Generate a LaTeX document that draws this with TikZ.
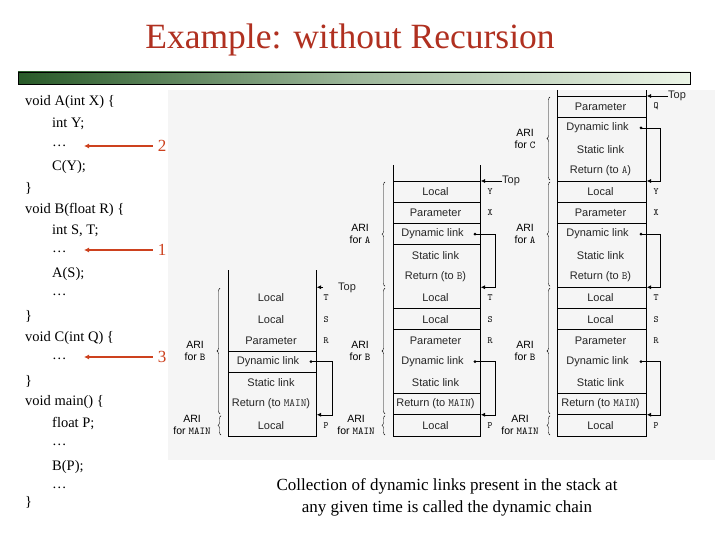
\documentclass[tikz,border=0pt]{standalone}
\usepackage{fontspec}
\setmainfont{Liberation Serif}
\newfontfamily\figfont{Liberation Sans}
\usetikzlibrary{decorations.pathreplacing,arrows.meta}
\definecolor{titlered}{RGB}{176,48,32}
\definecolor{arrred}{RGB}{205,65,30}
\definecolor{bardark}{RGB}{40,90,40}
\definecolor{barlight}{RGB}{235,245,230}
\definecolor{panel}{RGB}{245,245,245}
\tikzset{
  code/.style={anchor=west,inner sep=0pt,font=\fontsize{14.5}{15}\selectfont},
  num/.style={text=arrred,inner sep=0pt,font=\fontsize{17}{17}\selectfont},
  redarr/.style={draw=arrred,line width=1.6pt,-{Latex[length=5pt,width=5pt]}},
  cell/.style={inner sep=0pt,font=\figfont\fontsize{11}{11}\selectfont,text=black!85},
  letter/.style={inner sep=0pt,font=\ttfamily\fontsize{9.5}{9.5}\selectfont},
  ari/.style={inner sep=0pt,align=center,font=\figfont\fontsize{10.5}{12}\selectfont},
  stk/.style={line width=0.6pt},
  dyn/.style={line width=0.5pt,-{Latex[length=4pt,width=4pt]}},
  brc/.style={decorate,decoration={brace,amplitude=3pt,mirror},line width=0.4pt},
  bottomtxt/.style={inner sep=0pt,font=\fontsize{17}{22}\selectfont,align=center}
}
\begin{document}
\begin{tikzpicture}[x=1pt,y=-1pt]
\useasboundingbox (0,0) rectangle (720,540);
\fill[white] (0,0) rectangle (720,540);
% title and bar
\node[text=titlered,font=\fontsize{35.5}{35.5}\selectfont,inner sep=0pt] (title) at (350,40) {Example: without Recursion};
\shade[left color=bardark,right color=barlight,middle color=bardark!40!barlight] (18,72) rectangle (690,84);
\draw[line width=0.8pt] (18,72) rectangle (690,84);
\fill[panel] (168,90) rectangle (715,460);
% code
\foreach \t/\y/\ind in {{void A(int X) \{}/102/0,{int Y;}/124/1,{\dots}/146/1,{C(Y);}/167/1,{\}}/188/0,
  {void B(float R) \{}/210/0,{int S, T;}/231/1,{\dots}/252/1,{A(S);}/274/1,{\dots}/295/1,{\}}/316/0,
  {void C(int Q) \{}/338/0,{\dots}/359/1,{\}}/381/0,{void main() \{}/402/0,{float P;}/424/1,{\dots}/445/1,
  {B(P);}/467/1,{\dots}/488/1,{\}}/502/0}
  \node[code] at ({25+27*\ind},\y) {\t};
\foreach \n/\y in {2/146,1/250,3/357}{
  \node[num] (n\n) at (162,\y) {\n};
  \coordinate (t\n) at (84,\y);
  \draw[redarr] (n\n.west) ++(-5,0) -- (t\n);
}
% stacks
\def\h{21.25}
\foreach \L/\R/\start/\vt in {557/646/0/90,393/480/4/165,228/316/9/270}{
  \draw[stk] (\L,\vt) -- (\L,436) -- (\R,436) -- (\R,\vt);
  \foreach \i/\t/\c/\dx in {0/Parameter/Q/0,1/Dynamic link//-3,2/Static link//0,3/{Return (to \texttt{A})}//0,
     4/Local/Y/0,5/Parameter/X/0,6/Dynamic link//-3,7/Static link//0,8/{Return (to \texttt{B})}//0,
     9/Local/T/0,10/Local/S/0,11/Parameter/R/0,12/Dynamic link//-3,13/Static link//0,14/{Return (to \texttt{MAIN})}//0,15/Local/P/0}{
    \ifnum\i<\start\else
      \node[cell] at ({(\L+\R)/2-1+\dx},{96+(\i+0.5)*\h}) {\t};
      \node[letter] at ({\R+10},{96+(\i+0.5)*\h}) {\c};
    \fi
  }
}
% horizontal lines
\foreach \k in {0,1,4,5,6,9,10,11,14,15} \draw[stk] (557,{96+\k*\h}) -- (646,{96+\k*\h});
\foreach \k in {4,5,6,7,10,11,14,15} \draw[stk] (393,{96+\k*\h}) -- (480,{96+\k*\h});
\foreach \k in {12,13} \draw[stk] (228,{96+\k*\h}) -- (316,{96+\k*\h});
% dynamic links
\foreach \nm/\R/\vx/\r/\k in {c3/646/660/1/4,a3/646/660/6/9,b3/646/660/12/15,a2/480/495/6/9,b2/480/495/12/15,b1/316/332/12/15}{
  \coordinate (d\nm) at ({\R-5},{96+(\r+0.5)*\h});
  \coordinate (e\nm) at ({\R+1},{96+\k*\h});
  \fill (d\nm) circle (1.6pt);
  \draw[dyn] (d\nm) -- (\vx,{96+(\r+0.5)*\h}) -- (\vx,{96+\k*\h}) -- (e\nm);
}
% Top arrows
\foreach \nm/\R/\k in {3/646/0,2/480/4}{
  \node[cell,anchor=west] (top\nm) at ({\R+22},{96+\k*\h}) {Top};
  \coordinate (tp\nm) at ({\R+1},{96+\k*\h});
  \draw[dyn] (top\nm.west) -- (tp\nm);
}
\node[cell,anchor=west] (top1) at (338,288) {Top};
\coordinate (tp1) at (317,287.25);
\draw[dyn] (323,287.25) -- (tp1);
% braces and labels
\foreach \bx/\lx/\ka/\kb/\lab in {550/525/0/4/{ARI\\for \texttt{C}},550/525/4/9/{ARI\\for \texttt{A}},550/525/9/15/{ARI\\for \texttt{B}},550/520/15/16/{ARI\\for \texttt{MAIN}},
  385/360/4/9/{ARI\\for \texttt{A}},385/360/9/15/{ARI\\for \texttt{B}},385/356/15/16/{ARI\\for \texttt{MAIN}},
  220/195/9/15/{ARI\\for \texttt{B}},221/192/15/16/{ARI\\for \texttt{MAIN}}}{
  \draw[brc] (\bx,{96+\ka*\h+1}) -- (\bx,{96+\kb*\h-1});
  \node[ari] at (\lx,{96+(\ka+\kb)/2*\h}) {\lab};
}
\node[bottomtxt] (cap) at (447,497) {Collection of dynamic links present in the stack at\\any given time is called the dynamic chain};
\end{tikzpicture}
\end{document}
